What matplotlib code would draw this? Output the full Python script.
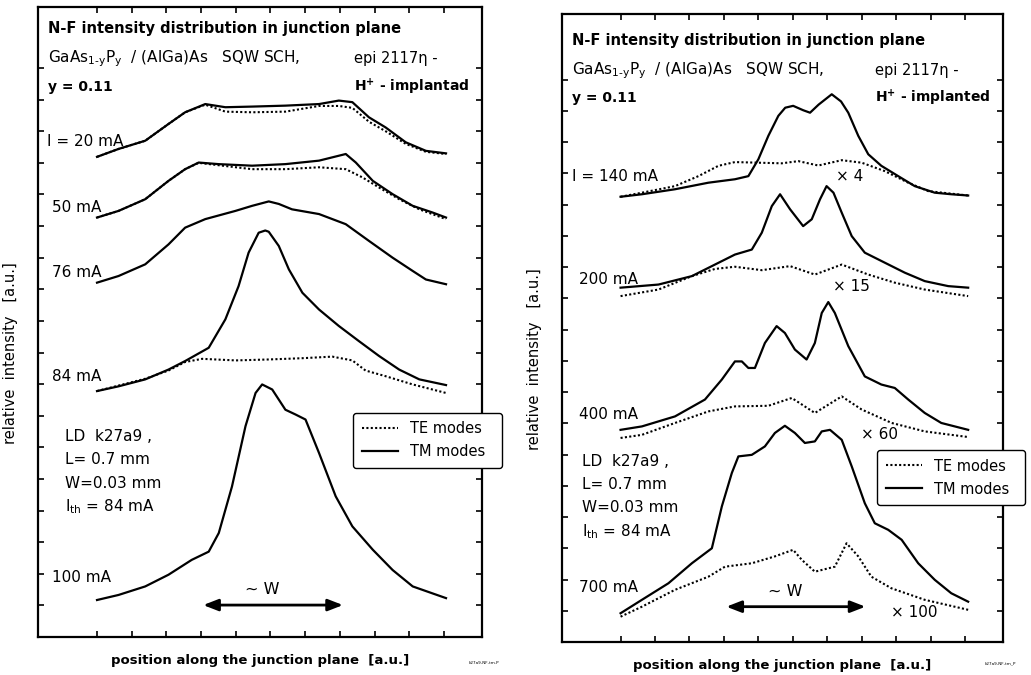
import numpy as np
import matplotlib.pyplot as plt
from matplotlib.patches import FancyArrowPatch

plt.rcParams['font.family'] = ['DejaVu Sans']
plt.rcParams['mathtext.fontset'] = 'dejavusans'

# ---- left panel: near-field profiles (position 0..10 a.u., stacked intensity) ----
l20_tm_x = [0, 0.62, 1.39, 2.06, 2.54, 3.12, 3.7, 4.47, 5.43, 6.4, 6.97, 7.36, 7.84, 8.32, 8.9, 9.48, 10.06]
l20_tm_y = [15.19, 15.44, 15.7, 16.23, 16.6, 16.86, 16.76, 16.78, 16.81, 16.86, 16.97, 16.92, 16.44, 16.12, 15.65, 15.38, 15.3]
l20_te_x = [0, 0.62, 1.39, 2.06, 2.54, 3.12, 3.7, 4.47, 5.43, 6.4, 6.97, 7.36, 7.84, 8.32, 8.9, 9.48, 10.06]
l20_te_y = [15.19, 15.44, 15.7, 16.23, 16.6, 16.84, 16.62, 16.6, 16.62, 16.8, 16.8, 16.74, 16.3, 16.0, 15.6, 15.35, 15.28]

l50_tm_x = [0, 0.62, 1.39, 2.06, 2.54, 2.93, 3.5, 4.47, 5.43, 6.4, 7.17, 7.46, 7.95, 8.52, 9.1, 9.67, 10.06]
l50_tm_y = [13.27, 13.48, 13.85, 14.43, 14.8, 15.01, 14.96, 14.91, 14.96, 15.07, 15.28, 15.01, 14.43, 14.01, 13.64, 13.43, 13.27]
l50_te_x = [0, 0.62, 1.39, 2.06, 2.54, 2.93, 4.47, 5.43, 6.4, 7.17, 7.65, 8.13, 8.71, 9.29, 10.06]
l50_te_y = [13.27, 13.48, 13.85, 14.43, 14.8, 15.0, 14.8, 14.8, 14.86, 14.8, 14.54, 14.22, 13.85, 13.53, 13.22]

l76_tm_x = [0, 0.62, 1.39, 2.06, 2.54, 3.12, 3.99, 4.47, 4.95, 5.24, 5.62, 6.4, 7.17, 7.84, 8.52, 9.1, 9.48, 10.06]
l76_tm_y = [11.21, 11.42, 11.79, 12.42, 12.95, 13.22, 13.48, 13.64, 13.78, 13.7, 13.53, 13.38, 13.06, 12.53, 12.0, 11.58, 11.31, 11.16]

l84_tm_x = [0, 0.62, 1.39, 2.06, 2.54, 3.22, 3.7, 4.08, 4.37, 4.66, 4.85, 4.95, 5.24, 5.53, 5.92, 6.4, 6.97, 7.55, 8.13, 8.71, 9.29, 10.06]
l84_tm_y = [7.78, 7.93, 8.15, 8.46, 8.73, 9.15, 10.05, 11.1, 12.16, 12.79, 12.86, 12.82, 12.37, 11.63, 10.89, 10.36, 9.84, 9.36, 8.89, 8.46, 8.15, 7.97]
l84_te_x = [0, 1.39, 2.06, 2.54, 3.03, 4.0, 4.95, 5.92, 6.78, 7.36, 7.74, 8.32, 9.1, 10.06]
l84_te_y = [7.78, 8.17, 8.43, 8.7, 8.8, 8.75, 8.78, 8.82, 8.87, 8.75, 8.43, 8.25, 7.99, 7.72]

l100_tm_x = [0, 0.62, 1.39, 2.06, 2.73, 3.22, 3.51, 3.89, 4.28, 4.57, 4.76, 5.05, 5.43, 5.72, 6.01, 6.4, 6.88, 7.36, 7.95, 8.52, 9.1, 9.67, 10.06]
l100_tm_y = [1.17, 1.33, 1.6, 1.97, 2.44, 2.7, 3.29, 4.76, 6.67, 7.72, 7.99, 7.83, 7.19, 7.04, 6.88, 5.82, 4.45, 3.5, 2.76, 2.12, 1.6, 1.38, 1.23]

# ---- right panel ----
r140_tm_x = [0, 0.62, 1.58, 2.55, 3.32, 3.71, 4.0, 4.29, 4.58, 4.78, 5.01, 5.3, 5.5, 5.75, 6.13, 6.4, 6.61, 6.9, 7.19, 7.57, 8.06, 8.54, 9.12, 9.6, 10.09]
r140_tm_y = [14.25, 14.33, 14.49, 14.7, 14.81, 14.91, 15.45, 16.2, 16.84, 17.1, 17.16, 17.02, 16.94, 17.2, 17.53, 17.3, 16.94, 16.2, 15.61, 15.24, 14.91, 14.59, 14.38, 14.33, 14.29]
r140_te_x = [0, 0.62, 1.58, 2.26, 2.84, 3.32, 4.0, 4.68, 5.16, 5.74, 6.42, 7.0, 7.67, 8.35, 8.93, 10.09]
r140_te_y = [14.25, 14.38, 14.59, 14.91, 15.24, 15.36, 15.34, 15.32, 15.39, 15.25, 15.42, 15.34, 15.07, 14.7, 14.43, 14.29]

r200_tm_x = [0, 1.1, 2.07, 2.74, 3.32, 3.81, 4.1, 4.39, 4.63, 4.92, 5.3, 5.55, 5.79, 5.98, 6.18, 6.42, 6.71, 7.09, 7.67, 8.25, 8.83, 9.51, 10.09]
r200_tm_y = [11.34, 11.44, 11.71, 12.08, 12.4, 12.56, 13.1, 13.95, 14.33, 13.85, 13.31, 13.53, 14.17, 14.59, 14.38, 13.74, 12.99, 12.46, 12.14, 11.82, 11.55, 11.39, 11.34]
r200_te_x = [0, 1.1, 2.07, 2.74, 3.32, 4.1, 4.92, 5.64, 6.42, 7.19, 7.96, 8.83, 10.09]
r200_te_y = [11.07, 11.28, 11.71, 11.94, 12.01, 11.9, 12.03, 11.76, 12.08, 11.76, 11.5, 11.28, 11.07]

r400_tm_x = [0, 0.62, 1.58, 2.45, 2.94, 3.32, 3.52, 3.71, 3.9, 4.19, 4.53, 4.77, 5.06, 5.4, 5.64, 5.84, 6.03, 6.22, 6.61, 7.09, 7.57, 7.96, 8.35, 8.83, 9.31, 9.7, 10.09]
r400_tm_y = [6.79, 6.9, 7.22, 7.76, 8.4, 8.98, 8.98, 8.77, 8.77, 9.57, 10.11, 9.89, 9.36, 9.04, 9.57, 10.53, 10.88, 10.53, 9.47, 8.5, 8.24, 8.13, 7.76, 7.33, 7.01, 6.9, 6.79]
r400_te_x = [0, 0.62, 1.58, 2.55, 3.32, 4.29, 4.97, 5.64, 6.42, 7.0, 7.87, 8.83, 10.09]
r400_te_y = [6.53, 6.63, 7.01, 7.38, 7.54, 7.56, 7.81, 7.33, 7.86, 7.44, 7.01, 6.74, 6.56]

r700_tm_x = [0, 0.62, 1.39, 2.07, 2.65, 2.94, 3.23, 3.42, 3.81, 4.19, 4.48, 4.77, 5.06, 5.35, 5.64, 5.84, 6.08, 6.42, 6.71, 7.09, 7.38, 7.77, 8.16, 8.64, 9.12, 9.6, 10.09]
r700_tm_y = [0.92, 1.35, 1.88, 2.52, 3.0, 4.34, 5.41, 5.94, 5.99, 6.26, 6.69, 6.92, 6.69, 6.37, 6.42, 6.74, 6.79, 6.47, 5.62, 4.44, 3.8, 3.59, 3.27, 2.52, 1.99, 1.56, 1.29]
r700_te_x = [0, 0.62, 1.58, 2.55, 3.03, 3.81, 4.48, 5.01, 5.26, 5.64, 6.22, 6.56, 6.9, 7.28, 7.86, 8.83, 10.09]
r700_te_y = [0.81, 1.13, 1.67, 2.09, 2.41, 2.52, 2.74, 2.95, 2.63, 2.25, 2.41, 3.16, 2.74, 2.09, 1.72, 1.35, 1.03]

left_labels = ['I = 20 mA', '50 mA', '76 mA', '84 mA', '100 mA']
left_label_y = [15.66, 13.6, 11.54, 8.24, 1.87]
right_labels = ['I = 140 mA', '200 mA', '400 mA', '700 mA']
right_label_y = [14.9, 11.6, 7.28, 1.73]
right_factors = ['× 4', '× 15', '× 60', '× 100']
right_factor_x = [6.26, 6.17, 6.99, 7.86]
right_factor_y = [14.9, 11.38, 6.63, 0.93]

tm_style = dict(color='black', lw=1.6, ls='-')
te_style = dict(color='black', lw=1.5, ls=(0, (1, 1.1)))

fig = plt.figure(figsize=(10.31, 6.75), dpi=100)
axL = fig.add_axes([0.0369, 0.0563, 0.4307, 0.9333])
axR = fig.add_axes([0.5451, 0.0489, 0.4277, 0.9304])


def style_axes(ax, ytop):
    ax.set_xlim(-1.7, 11.1)
    ax.set_ylim(0, ytop)
    ax.set_xticks(np.arange(0, 11))
    ax.set_yticks(np.arange(1, 19))
    ax.tick_params(direction='in', top=True, right=True, labelbottom=False,
                   labelleft=False, length=4, width=1.2)
    for s in ax.spines.values():
        s.set_linewidth(1.6)
    ax.set_xlabel('position along the junction plane  [a.u.]', fontsize=9.5,
                  fontweight='bold', labelpad=12)
    ax.set_ylabel('relative  intensity   [a.u.]', fontsize=10.5)
    ax.yaxis.set_label_coords(-0.045, 0.45)


def header(ax, right_word):
    ax.text(-1.42, 19.25, 'N-F intensity distribution in junction plane', fontsize=10.5,
            fontweight='bold', va='center')
    ax.text(-1.42, 18.3, r'GaAs$_{\mathrm{1\text{-}y}}$P$_{\mathrm{y}}$  / (AlGa)As   SQW SCH,',
            fontsize=11, va='center')
    ax.text(7.4, 18.3, 'epi 2117η -', fontsize=10.5, va='center')
    ax.text(-1.42, 17.4, 'y = 0.11', fontsize=10, fontweight='bold', va='center')
    ax.text(7.4, 17.4, r'H$^{\mathbf{+}}$ - ' + right_word, fontsize=10,
            fontweight='bold', va='center')


def ld_block(ax, x0, ys):
    lines = ['LD  k27a9 ,', 'L= 0.7 mm', 'W=0.03 mm', r'I$_{\mathrm{th}}$ = 84 mA']
    for t, yy in zip(lines, ys):
        ax.text(x0, yy, t, fontsize=11, va='center')


def w_arrow(ax, x0, x1, y):
    ax.add_patch(FancyArrowPatch((x0, y), (x1, y), arrowstyle='<|-|>,head_length=9,head_width=3.5',
                                 mutation_scale=1, color='black', lw=2))
    ax.text((x0 + x1) / 2 - 0.3, y + 0.5, '~ W', fontsize=11.5, ha='center', va='center')


def add_legend(ax, x0, y0):
    h1, = ax.plot([], [], **te_style, label='TE modes')
    h2, = ax.plot([], [], **tm_style, label='TM modes')
    leg = ax.legend(handles=[h1, h2], loc='upper left', bbox_to_anchor=(x0, y0, 0.335, 0.11),
                    mode='expand', borderaxespad=0, fontsize=10.5, frameon=True, fancybox=True,
                    edgecolor='black', handlelength=2.5, handletextpad=0.8, borderpad=0.6,
                    labelspacing=0.55, framealpha=1)
    leg.get_frame().set_linewidth(1.0)


# left panel
style_axes(axL, 19.93)
axL.plot(l20_te_x, l20_te_y, **te_style)
axL.plot(l20_tm_x, l20_tm_y, **tm_style)
axL.plot(l50_te_x, l50_te_y, **te_style)
axL.plot(l50_tm_x, l50_tm_y, **tm_style)
axL.plot(l76_tm_x, l76_tm_y, **tm_style)
axL.plot(l84_te_x, l84_te_y, **te_style)
axL.plot(l84_tm_x, l84_tm_y, **tm_style)
axL.plot(l100_tm_x, l100_tm_y, **tm_style)
for t, yy in zip(left_labels, left_label_y):
    axL.text(-1.45 if t.startswith('I') else -1.3, yy, t, fontsize=11, va='center')
header(axL, 'implantad')
ld_block(axL, -0.92, [6.34, 5.6, 4.86, 4.12])
w_arrow(axL, 2.98, 7.17, 1.01)
add_legend(axL, 0.709, 0.246)
fig.text(0.455, 0.016, 'k27a9-NF-tm.P', fontsize=3)

# right panel
style_axes(axR, 20.1)
axR.plot(r140_te_x, r140_te_y, **te_style)
axR.plot(r140_tm_x, r140_tm_y, **tm_style)
axR.plot(r200_te_x, r200_te_y, **te_style)
axR.plot(r200_tm_x, r200_tm_y, **tm_style)
axR.plot(r400_te_x, r400_te_y, **te_style)
axR.plot(r400_tm_x, r400_tm_y, **tm_style)
axR.plot(r700_te_x, r700_te_y, **te_style)
axR.plot(r700_tm_x, r700_tm_y, **tm_style)
for t, yy in zip(right_labels, right_label_y):
    axR.text(-1.42 if t.startswith('I') else -1.22, yy, t, fontsize=11, va='center')
for t, xx, yy in zip(right_factors, right_factor_x, right_factor_y):
    axR.text(xx, yy, t, fontsize=11, va='center')
header(axR, 'implanted')
ld_block(axR, -1.13, [5.77, 5.03, 4.29, 3.53])
w_arrow(axR, 2.99, 7.19, 1.13)
add_legend(axR, 0.714, 0.196)
fig.text(0.955, 0.016, 'k27a9-NF-tm_P', fontsize=3)

fig.savefig('out.png', dpi=100)
